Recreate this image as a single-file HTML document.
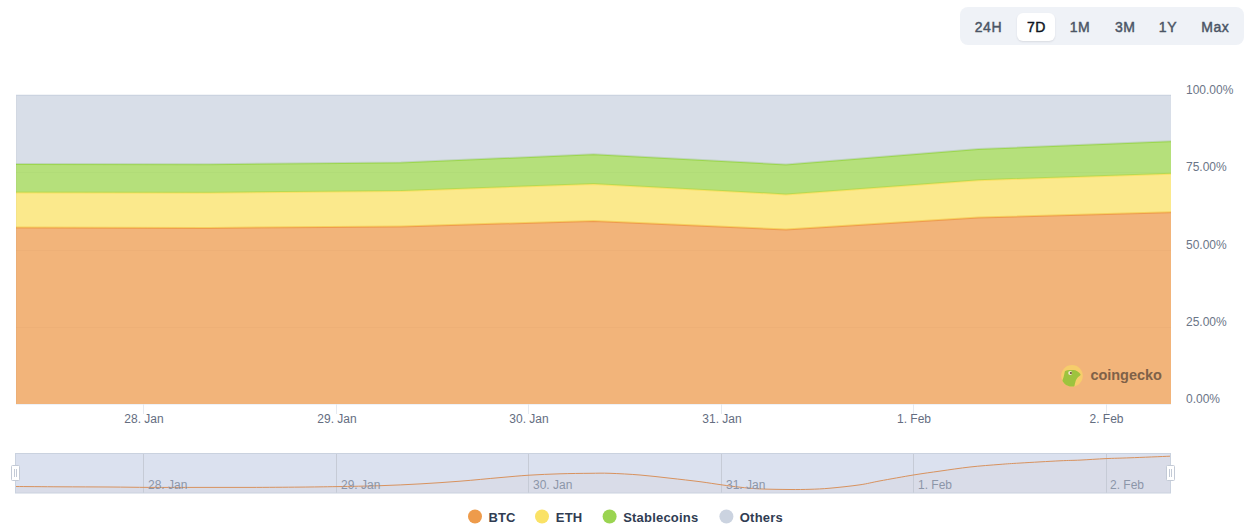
<!DOCTYPE html>
<html><head><meta charset="utf-8"><style>
html,body{margin:0;padding:0;background:#fff;width:1249px;height:526px;overflow:hidden;}
body{position:relative;font-family:"Liberation Sans",Arial,sans-serif;}
.rs{position:absolute;left:960px;top:7px;width:284px;height:38px;background:#eff2f7;border-radius:8px;}
.rs span{position:absolute;top:0.7px;letter-spacing:0.6px;height:38px;line-height:38px;font-size:14px;font-weight:400;-webkit-text-stroke:0.45px currentColor;color:#4b5565;transform:translateX(-50%);white-space:nowrap;}
.rs .sel{position:absolute;left:57px;top:6px;width:38px;height:28px;background:#fff;border-radius:6px;box-shadow:0 1px 2px rgba(16,24,40,0.10);}
.rs span.on{color:#0d1421;}
svg{position:absolute;left:0;top:0;}
svg text{font-family:"Liberation Sans",Arial,sans-serif;}
</style></head><body>
<div class="rs">
<div class="sel"></div>
<span style="left:28.4px">24H</span>
<span class="on" style="left:76.5px">7D</span>
<span style="left:120px">1M</span>
<span style="left:165.3px">3M</span>
<span style="left:208px">1Y</span>
<span style="left:255.3px">Max</span>
</div>
<svg width="1249" height="526" viewBox="0 0 1249 526">
<!-- plot -->
<defs><clipPath id="pc"><rect x="16" y="95" width="1155" height="309"/></clipPath></defs>
<g clip-path="url(#pc)">
<g stroke="#eef0f3" stroke-width="1"><line x1="16" y1="172.5" x2="1171" y2="172.5"/><line x1="16" y1="250.5" x2="1171" y2="250.5"/><line x1="16" y1="327.5" x2="1171" y2="327.5"/></g>
<path d="M16.0,227.6 L208.5,227.9 L401.0,226.5 L593.5,220.9 L786.0,229.6 L978.5,217.6 L1171.0,212.2 L1171,404 L16,404 Z" fill="#ee9b4e" fill-opacity="0.75"/>
<polyline points="16,227.6 208.5,227.9 401,226.5 593.5,220.9 786,229.6 978.5,217.6 1171,212.2" fill="none" stroke="#ee9b4e" stroke-width="2" stroke-linejoin="round"/>
<path d="M16.0,192.4 L208.5,192.7 L401.0,190.9 L593.5,184.0 L786.0,194.4 L978.5,180.2 L1171.0,173.7 L1171.0,212.2 L978.5,217.6 L786.0,229.6 L593.5,220.9 L401.0,226.5 L208.5,227.9 L16.0,227.6 Z" fill="#fae266" fill-opacity="0.75"/>
<polyline points="16,192.4 208.5,192.7 401,190.9 593.5,184 786,194.4 978.5,180.2 1171,173.7" fill="none" stroke="#fae266" stroke-width="2" stroke-linejoin="round"/>
<path d="M16.0,163.9 L208.5,164.3 L401.0,162.5 L593.5,154.2 L786.0,164.4 L978.5,149.0 L1171.0,141.2 L1171.0,173.7 L978.5,180.2 L786.0,194.4 L593.5,184.0 L401.0,190.9 L208.5,192.7 L16.0,192.4 Z" fill="#9cd64f" fill-opacity="0.75"/>
<polyline points="16,163.9 208.5,164.3 401,162.5 593.5,154.2 786,164.4 978.5,149 1171,141.2" fill="none" stroke="#9cd64f" stroke-width="2" stroke-linejoin="round"/>
<path d="M16,95 L1171,95 L1171.0,141.2 L978.5,149.0 L786.0,164.4 L593.5,154.2 L401.0,162.5 L208.5,164.3 L16.0,163.9 Z" fill="#cbd3e0" fill-opacity="0.75"/>
<line x1="16" y1="95" x2="1171" y2="95" stroke="#cbd3e0" stroke-width="2"/>
<rect x="16" y="96" width="1" height="308" fill="#000" fill-opacity="0.025"/>
</g>
<line x1="16" y1="404.5" x2="1171" y2="404.5" stroke="#eef2f8" stroke-width="1"/>
<line x1="16" y1="94.5" x2="1171" y2="94.5" stroke="#f2f4f7" stroke-width="1"/>
<!-- ticks -->
<g stroke="#e6eaf0" stroke-width="1">
<line x1="143.5" y1="404" x2="143.5" y2="414"/><line x1="336.5" y1="404" x2="336.5" y2="414"/>
<line x1="528.5" y1="404" x2="528.5" y2="414"/><line x1="721.5" y1="404" x2="721.5" y2="414"/>
<line x1="913.5" y1="404" x2="913.5" y2="414"/><line x1="1106.5" y1="404" x2="1106.5" y2="414"/>
</g>
<g font-size="12" fill="#646d7f" text-anchor="middle">
<text x="144" y="423">28. Jan</text><text x="337" y="423">29. Jan</text>
<text x="529" y="423">30. Jan</text><text x="722" y="423">31. Jan</text>
<text x="914" y="423">1. Feb</text><text x="1106.5" y="423">2. Feb</text>
</g>
<g font-size="12" fill="#6b7587">
<text x="1186" y="93.8">100.00%</text><text x="1186" y="171">75.00%</text>
<text x="1186" y="249.1">50.00%</text><text x="1186" y="326.2">25.00%</text>
<text x="1186" y="403">0.00%</text>
</g>
<!-- watermark -->
<g>
<circle cx="1072" cy="375.8" r="10.8" fill="#f6cd6b"/>
<clipPath id="lc"><circle cx="1072" cy="375.8" r="10.8"/></clipPath>
<path clip-path="url(#lc)" d="M1064.9,371.3 C1066,370 1070,369.8 1073.4,370 C1076,370.2 1078.5,371.5 1080.6,374.2 L1080.4,375.2 C1078,377 1076.5,378.5 1075.8,380.6 C1075.2,382.5 1074.8,384.5 1074.2,387 L1060,390 L1060,385 C1063.5,380 1064,375 1064.9,371.3 Z" fill="#9dc33e"/>
<circle cx="1070.2" cy="372.9" r="2" fill="#f3e6cf"/>
<circle cx="1070.9" cy="373" r="1.1" fill="#6a5034"/>
<text x="1090.5" y="379.8" font-size="14.5" font-weight="700" fill="#7f6148" letter-spacing="-0.05">coingecko</text>
</g>
<!-- navigator -->
<rect x="15.5" y="453.5" width="1155" height="39.5" fill="#dbe1ef"/>
<path d="M16.0,486.5 C23.33,486.55 44.33,486.72 60.0,486.8 C75.67,486.88 95.00,486.90 110.0,487.0 C125.00,487.10 135.00,487.33 150.0,487.4 C165.00,487.47 183.33,487.40 200.0,487.4 C216.67,487.40 233.33,487.45 250.0,487.4 C266.67,487.35 285.50,487.23 300.0,487.1 C314.50,486.97 323.67,486.83 337.0,486.6 C350.33,486.37 366.17,486.15 380.0,485.7 C393.83,485.25 406.67,484.65 420.0,483.9 C433.33,483.15 446.67,482.25 460.0,481.2 C473.33,480.15 488.50,478.60 500.0,477.6 C511.50,476.60 519.00,475.83 529.0,475.2 C539.00,474.57 549.83,474.12 560.0,473.8 C570.17,473.48 581.67,473.38 590.0,473.3 C598.33,473.22 601.67,473.02 610.0,473.3 C618.33,473.58 630.00,474.18 640.0,475.0 C650.00,475.82 660.00,477.08 670.0,478.2 C680.00,479.32 691.33,480.58 700.0,481.7 C708.67,482.82 715.33,483.98 722.0,484.9 C728.67,485.82 733.67,486.53 740.0,487.2 C746.33,487.87 751.67,488.52 760.0,488.9 C768.33,489.28 781.67,489.43 790.0,489.5 C798.33,489.57 803.33,489.52 810.0,489.3 C816.67,489.08 821.67,488.95 830.0,488.2 C838.33,487.45 851.67,486.02 860.0,484.8 C868.33,483.58 871.00,482.55 880.0,480.9 C889.00,479.25 904.00,476.53 914.0,474.9 C924.00,473.27 930.67,472.42 940.0,471.1 C949.33,469.78 960.00,468.12 970.0,467.0 C980.00,465.88 991.67,465.06 1000.0,464.4 C1008.33,463.74 1010.00,463.65 1020.0,463.05 C1030.00,462.45 1050.00,461.29 1060.0,460.8 C1070.00,460.31 1072.33,460.47 1080.0,460.1 C1087.67,459.73 1097.67,458.98 1106.0,458.6 C1114.33,458.22 1119.33,458.20 1130.0,457.8 C1140.67,457.40 1163.33,456.47 1170.0,456.2 L1170,493 L16,493 Z" fill="#d9dce8"/>
<g stroke="#c6cbd6" stroke-width="1">
<line x1="143.5" y1="454" x2="143.5" y2="493"/><line x1="336.5" y1="454" x2="336.5" y2="493"/>
<line x1="528.5" y1="454" x2="528.5" y2="493"/><line x1="721.5" y1="454" x2="721.5" y2="493"/>
<line x1="913.5" y1="454" x2="913.5" y2="493"/><line x1="1106.5" y1="454" x2="1106.5" y2="493"/>
</g>
<path d="M16.0,486.5 C23.33,486.55 44.33,486.72 60.0,486.8 C75.67,486.88 95.00,486.90 110.0,487.0 C125.00,487.10 135.00,487.33 150.0,487.4 C165.00,487.47 183.33,487.40 200.0,487.4 C216.67,487.40 233.33,487.45 250.0,487.4 C266.67,487.35 285.50,487.23 300.0,487.1 C314.50,486.97 323.67,486.83 337.0,486.6 C350.33,486.37 366.17,486.15 380.0,485.7 C393.83,485.25 406.67,484.65 420.0,483.9 C433.33,483.15 446.67,482.25 460.0,481.2 C473.33,480.15 488.50,478.60 500.0,477.6 C511.50,476.60 519.00,475.83 529.0,475.2 C539.00,474.57 549.83,474.12 560.0,473.8 C570.17,473.48 581.67,473.38 590.0,473.3 C598.33,473.22 601.67,473.02 610.0,473.3 C618.33,473.58 630.00,474.18 640.0,475.0 C650.00,475.82 660.00,477.08 670.0,478.2 C680.00,479.32 691.33,480.58 700.0,481.7 C708.67,482.82 715.33,483.98 722.0,484.9 C728.67,485.82 733.67,486.53 740.0,487.2 C746.33,487.87 751.67,488.52 760.0,488.9 C768.33,489.28 781.67,489.43 790.0,489.5 C798.33,489.57 803.33,489.52 810.0,489.3 C816.67,489.08 821.67,488.95 830.0,488.2 C838.33,487.45 851.67,486.02 860.0,484.8 C868.33,483.58 871.00,482.55 880.0,480.9 C889.00,479.25 904.00,476.53 914.0,474.9 C924.00,473.27 930.67,472.42 940.0,471.1 C949.33,469.78 960.00,468.12 970.0,467.0 C980.00,465.88 991.67,465.06 1000.0,464.4 C1008.33,463.74 1010.00,463.65 1020.0,463.05 C1030.00,462.45 1050.00,461.29 1060.0,460.8 C1070.00,460.31 1072.33,460.47 1080.0,460.1 C1087.67,459.73 1097.67,458.98 1106.0,458.6 C1114.33,458.22 1119.33,458.20 1130.0,457.8 C1140.67,457.40 1163.33,456.47 1170.0,456.2" fill="none" stroke="#d8925e" stroke-width="1"/>
<rect x="15.5" y="453.5" width="1155" height="39.5" fill="none" stroke="#cad2df" stroke-width="1"/>
<g font-size="12" fill="#8c96a8">
<text x="148" y="488.8">28. Jan</text><text x="341" y="488.8">29. Jan</text>
<text x="533" y="488.8">30. Jan</text><text x="726" y="488.8">31. Jan</text>
<text x="918" y="488.8">1. Feb</text><text x="1110" y="488.8">2. Feb</text>
</g>
<g>
<rect x="11.5" y="465.5" width="8" height="15" rx="1" fill="#fff" stroke="#c3cad6" stroke-width="1"/>
<line x1="14.5" y1="469" x2="14.5" y2="477" stroke="#c3cad6"/><line x1="16.5" y1="469" x2="16.5" y2="477" stroke="#c3cad6"/>
<rect x="1166.5" y="465.5" width="8" height="15" rx="1" fill="#fff" stroke="#c3cad6" stroke-width="1"/>
<line x1="1169.5" y1="469" x2="1169.5" y2="477" stroke="#c3cad6"/><line x1="1171.5" y1="469" x2="1171.5" y2="477" stroke="#c3cad6"/>
</g>
<!-- legend -->
<g font-size="13" font-weight="700" fill="#303c52" letter-spacing="0.2">
<circle cx="475" cy="516.5" r="7" fill="#ee9b4b"/><text x="488.4" y="521.9">BTC</text>
<circle cx="542" cy="516.5" r="7" fill="#fae266"/><text x="555.8" y="521.9">ETH</text>
<circle cx="609.6" cy="516.5" r="7" fill="#9ad451"/><text x="623.2" y="521.9">Stablecoins</text>
<circle cx="726.4" cy="516.5" r="7" fill="#cbd3e0"/><text x="739.8" y="521.9">Others</text>
</g>
</svg>
</body></html>
